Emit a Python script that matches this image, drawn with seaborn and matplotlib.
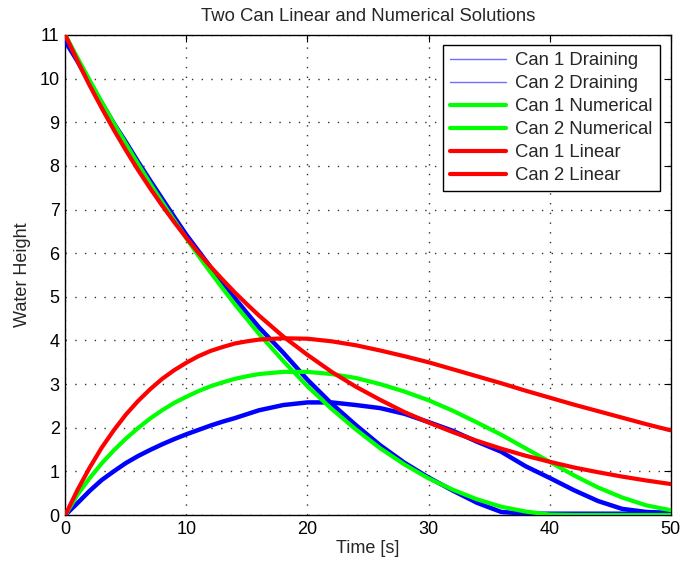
import matplotlib
matplotlib.use("Agg")
import matplotlib.pyplot as plt
from matplotlib.lines import Line2D
import seaborn as sns
import pandas as pd

time_s = [0, 1, 2, 3, 4, 5, 6, 7, 8, 9, 10, 11, 12, 13, 14, 15, 16, 18, 20,
          22, 24, 26, 28, 30, 32, 34, 36, 38, 40, 42, 44, 46, 48, 50]

can1_draining = [10.85, 10.40, 9.90, 9.45, 8.98, 8.55, 8.10, 7.67, 7.25, 6.83,
                 6.42, 6.05, 5.68, 5.32, 4.97, 4.63, 4.30, 3.72, 3.10, 2.55,
                 2.06, 1.60, 1.20, 0.86, 0.56, 0.28, 0.07, 0.03, 0.03, 0.03,
                 0.03, 0.03, 0.03, 0.03]
can2_draining = [0.00, 0.27, 0.55, 0.80, 1.00, 1.19, 1.35, 1.49, 1.62, 1.74,
                 1.85, 1.95, 2.05, 2.14, 2.22, 2.31, 2.40, 2.52, 2.58, 2.58,
                 2.52, 2.45, 2.32, 2.13, 1.93, 1.68, 1.45, 1.12, 0.85, 0.57,
                 0.32, 0.14, 0.07, 0.05]
can1_numerical = [11.00, 10.48, 9.97, 9.47, 8.98, 8.51, 8.05, 7.60, 7.17, 6.75,
                  6.34, 5.94, 5.56, 5.19, 4.83, 4.49, 4.15, 3.53, 2.95, 2.43,
                  1.96, 1.53, 1.16, 0.84, 0.58, 0.36, 0.19, 0.08, 0.01, 0.00,
                  0.00, 0.00, 0.00, 0.00]
can2_numerical = [0.00, 0.46, 0.84, 1.18, 1.48, 1.75, 1.99, 2.21, 2.40, 2.57,
                  2.71, 2.84, 2.95, 3.04, 3.12, 3.18, 3.23, 3.28, 3.28, 3.23,
                  3.14, 3.00, 2.83, 2.63, 2.39, 2.12, 1.84, 1.53, 1.22, 0.91,
                  0.63, 0.40, 0.22, 0.11]
can1_linear = [11.00, 10.41, 9.85, 9.33, 8.83, 8.36, 7.91, 7.49, 7.09, 6.71,
               6.35, 6.01, 5.69, 5.39, 5.10, 4.83, 4.57, 4.09, 3.67, 3.28,
               2.94, 2.64, 2.36, 2.12, 1.90, 1.70, 1.52, 1.36, 1.22, 1.09,
               0.98, 0.88, 0.79, 0.71]
can2_linear = [0.00, 0.57, 1.08, 1.54, 1.94, 2.30, 2.61, 2.88, 3.12, 3.32,
               3.49, 3.64, 3.76, 3.85, 3.93, 3.98, 4.02, 4.05, 4.04, 3.98,
               3.89, 3.77, 3.64, 3.50, 3.34, 3.18, 3.02, 2.85, 2.69, 2.53,
               2.38, 2.23, 2.08, 1.94]

series_names = ["Can 1 Draining", "Can 2 Draining", "Can 1 Numerical",
                "Can 2 Numerical", "Can 1 Linear", "Can 2 Linear"]
series_values = [can1_draining, can2_draining, can1_numerical,
                 can2_numerical, can1_linear, can2_linear]

x_ticks = [0, 10, 20, 30, 40, 50]
y_ticks = list(range(0, 12))

sns.set_style("white")
plt.rcParams["font.family"] = ["Liberation Sans", "DejaVu Sans"]

df = pd.DataFrame({"Time": time_s})
for name, vals in zip(series_names, series_values):
    df[name] = vals

fig = plt.figure(figsize=(6.83, 5.67), dpi=100)
ax = fig.add_axes([0.0956, 0.0917, 0.8864, 0.8466])

styles = {
    "Can 1 Draining": ("#0000ff", 3.2),
    "Can 2 Draining": ("#0000ff", 3.2),
    "Can 1 Numerical": ("#00ff00", 3.0),
    "Can 2 Numerical": ("#00ff00", 3.0),
    "Can 1 Linear": ("#ff0000", 3.0),
    "Can 2 Linear": ("#ff0000", 3.0),
}
for i, name in enumerate(series_names):
    c, lw = styles[name]
    sns.lineplot(data=df, x="Time", y=name, color=c, linewidth=lw, ax=ax,
                 zorder=3 + i, legend=False)

ax.set_xlim(0, 50)
ax.set_ylim(0, 11)
ax.set_xticks(x_ticks)
ax.set_yticks(y_ticks)
ax.tick_params(direction="in", length=5, width=0.8, top=True, right=True,
               labelsize=13, colors="black", pad=4)
for sp in ax.spines.values():
    sp.set_color("black")
    sp.set_linewidth(1.0)
ax.grid(True, color="#333333", linestyle=(0, (1, 6)), linewidth=1.0)
ax.set_axisbelow(True)

ax.set_title("Two Can Linear and Numerical Solutions", fontsize=13.3, pad=10)
ax.set_xlabel("Time [s]", fontsize=13, labelpad=2)
ax.set_ylabel("Water Height", fontsize=13, labelpad=6)

handles = [
    Line2D([], [], color="#7070ff", linewidth=1.0),
    Line2D([], [], color="#7070ff", linewidth=1.0),
    Line2D([], [], color="#00ff00", linewidth=3.0),
    Line2D([], [], color="#00ff00", linewidth=3.0),
    Line2D([], [], color="#ff0000", linewidth=3.0),
    Line2D([], [], color="#ff0000", linewidth=3.0),
]
leg = ax.legend(handles, series_names, loc="upper right",
                bbox_to_anchor=(0.982, 0.979), borderaxespad=0,
                fontsize=13.3, frameon=True, fancybox=False, shadow=False,
                handlelength=3.0, handletextpad=0.5, labelspacing=0.32,
                borderpad=0.4)
leg.get_frame().set_edgecolor("black")
leg.get_frame().set_linewidth(1.0)
leg.get_frame().set_alpha(1.0)
leg.set_zorder(20)

fig.savefig("out.png", dpi=100)
